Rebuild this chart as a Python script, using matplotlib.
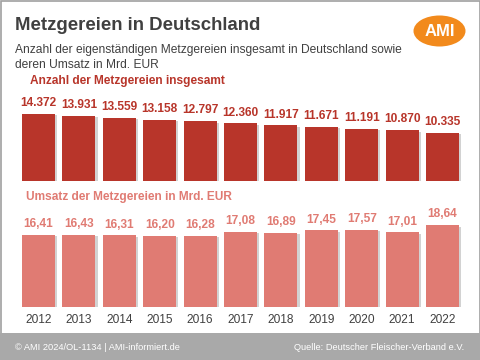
import matplotlib
matplotlib.use("Agg")
import matplotlib.pyplot as plt
import matplotlib.patheffects as pe
from matplotlib.patches import Ellipse, Rectangle

years = ["2012", "2013", "2014", "2015", "2016", "2017", "2018", "2019", "2020", "2021", "2022"]
anzahl = [14372, 13931, 13559, 13158, 12797, 12360, 11917, 11671, 11191, 10870, 10335]
umsatz = [16.41, 16.43, 16.31, 16.20, 16.28, 17.08, 16.89, 17.45, 17.57, 17.01, 18.64]

anzahl_labels = [f"{v:,}".replace(",", ".") for v in anzahl]
umsatz_labels = [f"{v:.2f}".replace(".", ",") for v in umsatz]

plt.rcParams["font.family"] = ["Liberation Sans", "DejaVu Sans"]

W, H = 480, 360
fig = plt.figure(figsize=(4.8, 3.6), dpi=100)
fig.patch.set_facecolor("white")

def ax_px(left, top, right, bottom):
    return fig.add_axes([left / W, 1 - bottom / H, (right - left) / W, (bottom - top) / H])

dark_red = "#b8352a"
light_red = "#e07b73"
text_gray = "#404040"

# border
fig.patches.append(Rectangle((0.5 / W, 0.5 / H), 1 - 1 / W, 1 - 1 / H, transform=fig.transFigure,
                             fill=False, edgecolor="#a0a0a0", lw=1.2, zorder=0))
# footer band
fig.patches.append(Rectangle((0, 0), 1, (H - 333) / H, transform=fig.transFigure,
                             facecolor="#a9a9a9", edgecolor="none", zorder=1))

# titles
fig.text(15 / W, 1 - 26 / H, "Metzgereien in Deutschland", fontsize=13.4, fontweight="bold",
         color=text_gray, va="center", ha="left")
fig.text(15 / W, 1 - 50 / H, "Anzahl der eigenständigen Metzgereien insgesamt in Deutschland sowie",
         fontsize=8.65, color=text_gray, va="center", ha="left")
fig.text(15 / W, 1 - 64.5 / H, "deren Umsatz in Mrd. EUR",
         fontsize=8.65, color=text_gray, va="center", ha="left")
fig.text(30 / W, 1 - 81 / H, "Anzahl der Metzgereien insgesamt", fontsize=8.6, fontweight="bold",
         color=dark_red, va="center", ha="left")
fig.text(26 / W, 1 - 197 / H, "Umsatz der Metzgereien in Mrd. EUR", fontsize=8.6, fontweight="bold",
         color=light_red, va="center", ha="left")

# footer texts
fig.text(15 / W, 1 - 348 / H, "© AMI 2024/OL-1134 | AMI-informiert.de", fontsize=6.7,
         color="white", va="center", ha="left")
fig.text(464 / W, 1 - 348 / H, "Quelle: Deutscher Fleischer-Verband e.V.", fontsize=6.7,
         color="white", va="center", ha="right")

# logo
logo_ax = ax_px(410, 12, 470, 50)
logo_ax.set_xlim(410, 470)
logo_ax.set_ylim(50, 12)
logo_ax.axis("off")
logo_ax.add_patch(Ellipse((439.5, 31), 52, 31, facecolor="#f28a1c", edgecolor="none"))
logo_ax.text(439.5, 31.5, "AMI", color="white", fontsize=12, fontweight="bold",
             ha="center", va="center")

x = list(range(len(years)))
left_px = 38.5 - 20.2
right_px = 442.5 + 20.2
shadow = [pe.SimplePatchShadow(offset=(1.5, -1), shadow_rgbFace="#808080", alpha=0.35), pe.Normal()]

# top chart
bottom1 = 181
scale1 = 67 / 14372
top1 = 95
ax1 = ax_px(left_px, top1, right_px, bottom1)
ax1.set_xlim(-0.5, len(years) - 0.5)
ax1.set_ylim(0, (bottom1 - top1) / scale1)
ax1.bar(x, anzahl, width=0.82, color=dark_red, path_effects=shadow)
for xi, v, lab in zip(x, anzahl, anzahl_labels):
    ax1.annotate(lab, (xi, v), xytext=(0, 3.5), textcoords="offset points", ha="center", va="bottom",
                 fontsize=8.6, fontweight="bold", color=dark_red)
ax1.axis("off")

# bottom chart
bottom2 = 306.7
scale2 = 71.7 / 16.41
top2 = 210
ax2 = ax_px(left_px, top2, right_px, bottom2)
ax2.set_xlim(-0.5, len(years) - 0.5)
ax2.set_ylim(0, (bottom2 - top2) / scale2)
ax2.bar(x, umsatz, width=0.82, color=light_red, path_effects=shadow)
for xi, v, lab in zip(x, umsatz, umsatz_labels):
    ax2.annotate(lab, (xi, v), xytext=(0, 3.5), textcoords="offset points", ha="center", va="bottom",
                 fontsize=8.6, fontweight="bold", color=light_red)
for s in ax2.spines.values():
    s.set_visible(False)
ax2.set_yticks([])
ax2.set_xticks(x)
ax2.set_xticklabels(years, fontsize=8.6, color=text_gray)
ax2.tick_params(axis="x", length=0, pad=5.5)
ax2.patch.set_visible(False)

fig.savefig("out.png", dpi=100)
